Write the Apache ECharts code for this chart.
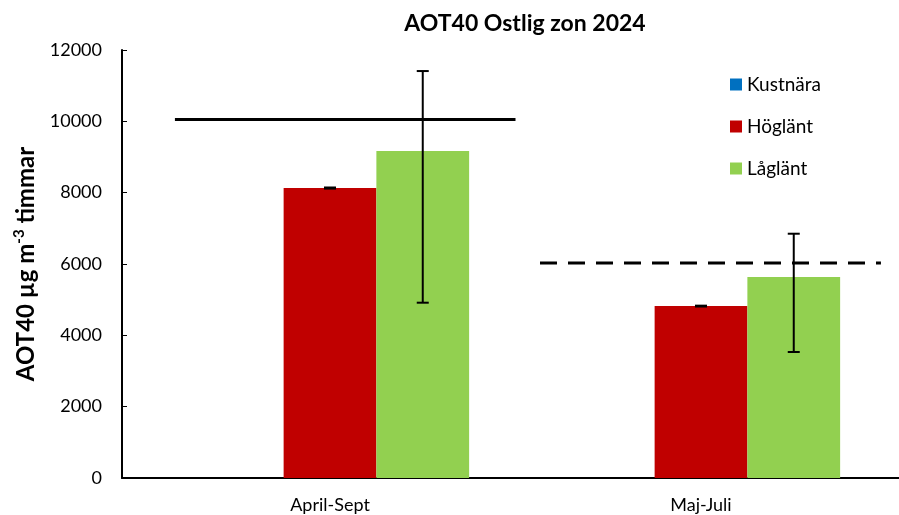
<!DOCTYPE html>
<html>
<head>
<meta charset="utf-8">
<script src="https://cdn.jsdelivr.net/npm/echarts@6/dist/echarts.min.js"></script>
<style>html,body{margin:0;padding:0;background:#fff}#c{width:899px;height:515px}</style>
</head>
<body>
<div id="c"></div>
<script>
const categories = ['April-Sept', 'Maj-Juli'];
const seriesNames = ['Kustnära', 'Höglänt', 'Låglänt'];
const kustnara = [null, null];
const hoglant = [8130, 4820];
const laglant = [9170, 5635];
const hoglantLow = [8115, 4808];
const hoglantHigh = [8145, 4832];
const laglantLow = [4915, 3532];
const laglantHigh = [11410, 6849];
const yTicks = [0, 2000, 4000, 6000, 8000, 10000, 12000];
// threshold lines: [xStart, xEnd, value] on a 0..2 scale across the two categories
const solidLine = [[0.082, 10050], [1.0, 10050]];
const dashedLine = [[1.066, 6030], [1.985, 6030]];

const colors = ['#0070C0', '#C00000', '#92D050'];
const FONT = 'Lato, "Open Sans", sans-serif';
const BAND_FILL = 0.75;

function errSeries(name, low, high, slot) {
  return {
    type: 'custom', name: name + ' err', xAxisIndex: 0, yAxisIndex: 0, z: 10,
    silent: true,
    data: categories.map((c, i) => [i, low[i], high[i]]),
    renderItem: function (params, api) {
      const band = api.size([1, 0])[0];
      const barW = band * BAND_FILL / 3;
      const off = (slot - 1) * barW;
      const lo = api.coord([api.value(0), api.value(1)]);
      const hi = api.coord([api.value(0), api.value(2)]);
      const x = lo[0] + off;
      const cap = 6;
      const st = { stroke: '#000', lineWidth: 2 };
      return {
        type: 'group', children: [
          { type: 'line', shape: { x1: x, y1: lo[1], x2: x, y2: hi[1] }, style: st },
          { type: 'line', shape: { x1: x - cap, y1: lo[1], x2: x + cap, y2: lo[1] }, style: st },
          { type: 'line', shape: { x1: x - cap, y1: hi[1], x2: x + cap, y2: hi[1] }, style: st }
        ]
      };
    }
  };
}

const chart = echarts.init(document.getElementById('c'));
chart.setOption({
  animation: false,
  color: colors,
  title: {
    text: 'AOT40 Ostlig zon 2024', left: 520, top: 7, textAlign: 'center',
    textStyle: { fontFamily: FONT, fontSize: 23, fontWeight: 'bold', color: '#000' }
  },
  legend: {
    data: seriesNames, orient: 'vertical', left: 725, top: 70,
    icon: 'rect', itemWidth: 12, itemHeight: 12, itemGap: 23,
    textStyle: { fontFamily: FONT, fontSize: 19, color: '#000' }
  },
  grid: [
    { left: 144.5, right: 12.5, top: 50, bottom: 37, containLabel: false, outerBoundsMode: 'none' },
    { left: 122, right: 0, top: 50, bottom: 37, containLabel: false, outerBoundsMode: 'none' }
  ],
  xAxis: [
    {
      type: 'category', gridIndex: 0, data: categories,
      axisLine: { show: false }, axisTick: { show: false },
      axisLabel: { fontFamily: FONT, fontSize: 18, color: '#000', margin: 18 }
    },
    {
      type: 'value', gridIndex: 0, min: 0, max: 2, show: false
    },
    {
      type: 'value', gridIndex: 1, min: 0, max: 1, position: 'bottom',
      axisLine: { show: true, lineStyle: { color: '#000', width: 2 } },
      axisTick: { show: false }, axisLabel: { show: false }, splitLine: { show: false }
    }
  ],
  yAxis: [
    {
      type: 'value', gridIndex: 0, min: 0, max: 12000, interval: 2000, offset: 22.5,
      name: '{b|AOT40 µg m}{s|-3}{b| timmar}', nameLocation: 'middle', nameGap: 82, nameRotate: 90,
      nameTextStyle: {
        rich: {
          b: { fontFamily: FONT, fontSize: 24, fontWeight: 'bold', color: '#000' },
          s: { fontFamily: FONT, fontSize: 15, fontWeight: 'bold', color: '#000', verticalAlign: 'top', padding: [0, 0, 13, 0] }
        }
      },
      axisLine: { show: true, onZero: false, lineStyle: { color: '#000', width: 2 } },
      axisTick: { show: true, inside: true, length: 5, lineStyle: { color: '#000', width: 1 } },
      axisLabel: { fontFamily: FONT, fontSize: 18, color: '#000', margin: 20,
        formatter: v => yTicks.includes(v) ? String(v) : '' },
      splitLine: { show: false }
    },
    { type: 'value', gridIndex: 1, min: 0, max: 1, show: false }
  ],
  series: [
    { name: seriesNames[0], type: 'bar', data: kustnara, barGap: '0%', barCategoryGap: '25%', xAxisIndex: 0, yAxisIndex: 0 },
    { name: seriesNames[1], type: 'bar', data: hoglant, barGap: '0%', barCategoryGap: '25%', xAxisIndex: 0, yAxisIndex: 0 },
    { name: seriesNames[2], type: 'bar', data: laglant, barGap: '0%', barCategoryGap: '25%', xAxisIndex: 0, yAxisIndex: 0 },
    errSeries('Höglänt', hoglantLow, hoglantHigh, 1),
    errSeries('Låglänt', laglantLow, laglantHigh, 2),
    {
      type: 'line', xAxisIndex: 1, yAxisIndex: 0, data: solidLine, symbol: 'none', z: 5,
      lineStyle: { color: '#000', width: 3, type: 'solid' }
    },
    {
      type: 'line', xAxisIndex: 1, yAxisIndex: 0, data: dashedLine, symbol: 'none', z: 5,
      lineStyle: { color: '#000', width: 3, type: [17, 11] }
    }
  ]
});
</script>
</body>
</html>
